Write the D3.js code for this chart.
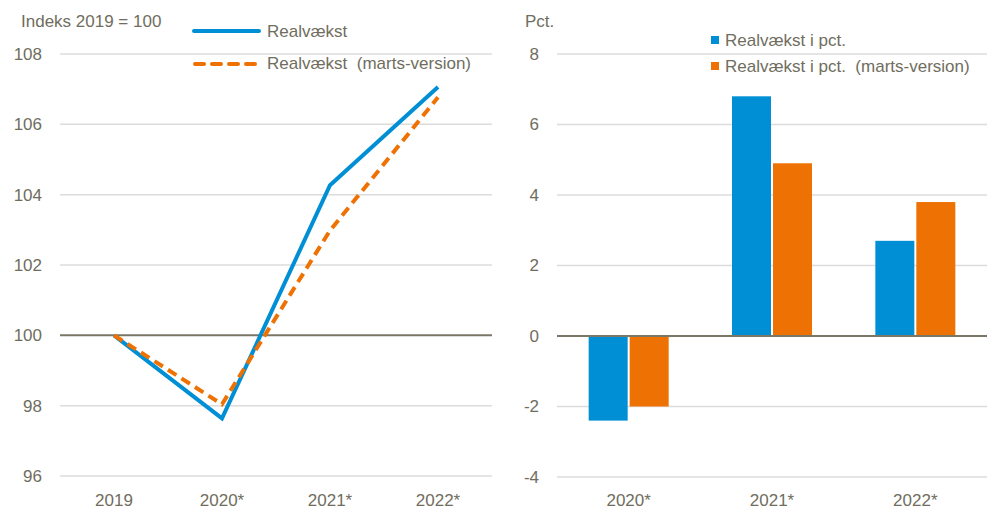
<!DOCTYPE html>
<html lang="da">
<head>
  <meta charset="utf-8" />
  <title>Realvækst</title>
  <script src="https://cdnjs.cloudflare.com/ajax/libs/d3/7.8.5/d3.min.js"></script>
  <style>
    html, body { margin: 0; padding: 0; background: #fff; }
    svg text { font-family: "Liberation Sans Narrow", "Arial Narrow", "Liberation Sans", Arial, sans-serif; fill: #706d5e; font-size: 17px; white-space: pre; }
  </style>
</head>
<body>
<svg id="chart" width="991" height="527"></svg>
<script>
  // left panel: index, 2019 = 100
  const lineYears = ["2019", "2020*", "2021*", "2022*"];
  const realvaekst = [100, 97.64, 104.27, 107.06];
  const realvaekstMarts = [100, 98.04, 102.98, 106.77];
  const leftTicks = [96, 98, 100, 102, 104, 106, 108];

  // right panel: growth in pct.
  const barYears = ["2020*", "2021*", "2022*"];
  const vaekstPct = [-2.4, 6.8, 2.7];
  const vaekstPctMarts = [-2.0, 4.9, 3.8];
  const rightTicks = [-4, -2, 0, 2, 4, 6, 8];

  const blue = "#008fd5";
  const orange = "#ee7203";
  const gridColor = "#dcdcdc";
  const zeroColor = "#7a7767";

  const svg = d3.select("#chart");

  // ---------- left chart ----------
  const L = { left: 60, right: 492, top: 54, bottom: 476 };
  const xL = d3.scaleBand().domain(lineYears).range([L.left, L.right]);
  const yL = d3.scaleLinear().domain([96, 108]).range([L.bottom, L.top]);

  const gl = svg.append("g");
  gl.selectAll("line.grid").data(leftTicks).enter().append("line")
    .attr("x1", L.left).attr("x2", L.right)
    .attr("y1", d => yL(d)).attr("y2", d => yL(d))
    .attr("stroke", d => d === 100 ? zeroColor : gridColor)
    .attr("stroke-width", d => d === 100 ? 2 : 1.5);

  gl.selectAll("text.tick").data(leftTicks).enter().append("text")
    .attr("x", 42).attr("y", d => yL(d)).attr("dy", "0.35em")
    .attr("text-anchor", "end").text(d => d);

  gl.selectAll("text.xlab").data(lineYears).enter().append("text")
    .attr("x", d => xL(d) + xL.bandwidth() / 2).attr("y", 506)
    .attr("text-anchor", "middle").text(d => d);

  gl.append("text").attr("x", 21).attr("y", 27).text("Indeks 2019 = 100");

  const line = d3.line()
    .x((d, i) => xL(lineYears[i]) + xL.bandwidth() / 2)
    .y(d => yL(d));

  gl.append("path").datum(realvaekst).attr("d", line)
    .attr("fill", "none").attr("stroke", blue).attr("stroke-width", 4)
    .attr("stroke-linejoin", "miter");
  gl.append("path").datum(realvaekstMarts).attr("d", line)
    .attr("fill", "none").attr("stroke", orange).attr("stroke-width", 4)
    .attr("stroke-dasharray", "10,6");

  // legend
  gl.append("line").attr("x1", 194).attr("x2", 259).attr("y1", 31).attr("y2", 31)
    .attr("stroke", blue).attr("stroke-width", 4).attr("stroke-linecap", "round");
  gl.append("text").attr("x", 267).attr("y", 31).attr("dy", "0.35em").text("Realvækst");
  gl.append("line").attr("x1", 195).attr("x2", 259).attr("y1", 64).attr("y2", 64)
    .attr("stroke", orange).attr("stroke-width", 4).attr("stroke-linecap", "round")
    .attr("stroke-dasharray", "9,8");
  gl.append("text").attr("x", 267).attr("y", 63).attr("dy", "0.35em").text("Realvækst  (marts-version)");

  // ---------- right chart ----------
  const R = { left: 557, right: 987, top: 54, bottom: 477 };
  const xR = d3.scaleBand().domain(barYears).range([R.left, R.right]);
  const yR = d3.scaleLinear().domain([-4, 8]).range([R.bottom, R.top]);
  const barW = 39, gap = 2;

  const gr = svg.append("g");
  gr.selectAll("line.grid").data(rightTicks.filter(d => d !== 0)).enter().append("line")
    .attr("x1", R.left).attr("x2", R.right)
    .attr("y1", d => yR(d)).attr("y2", d => yR(d))
    .attr("stroke", gridColor).attr("stroke-width", 1.5);

  gr.selectAll("text.tick").data(rightTicks).enter().append("text")
    .attr("x", 539).attr("y", d => yR(d)).attr("dy", "0.35em")
    .attr("text-anchor", "end").text(d => d);

  gr.selectAll("text.xlab").data(barYears).enter().append("text")
    .attr("x", d => xR(d) + xR.bandwidth() / 2).attr("y", 506)
    .attr("text-anchor", "middle").text(d => d);

  gr.append("text").attr("x", 525).attr("y", 27).text("Pct.");

  const barData = barYears.map((y, i) => [
    { year: y, v: vaekstPct[i], c: blue, off: -barW - gap / 2 },
    { year: y, v: vaekstPctMarts[i], c: orange, off: gap / 2 }
  ]).flat();

  gr.selectAll("rect.bar").data(barData).enter().append("rect")
    .attr("x", d => xR(d.year) + xR.bandwidth() / 2 + d.off)
    .attr("y", d => yR(Math.max(0, d.v)))
    .attr("width", barW)
    .attr("height", d => Math.abs(yR(d.v) - yR(0)))
    .attr("fill", d => d.c);

  gr.append("line").attr("x1", R.left).attr("x2", R.right)
    .attr("y1", yR(0)).attr("y2", yR(0))
    .attr("stroke", zeroColor).attr("stroke-width", 2);

  // legend
  gr.append("rect").attr("x", 711).attr("y", 36).attr("width", 8).attr("height", 8).attr("fill", blue);
  gr.append("text").attr("x", 725).attr("y", 40).attr("dy", "0.35em").text("Realvækst i pct.");
  gr.append("rect").attr("x", 711).attr("y", 62).attr("width", 8).attr("height", 8).attr("fill", orange);
  gr.append("text").attr("x", 725).attr("y", 66).attr("dy", "0.35em").text("Realvækst i pct.  (marts-version)");
</script>
</body>
</html>
